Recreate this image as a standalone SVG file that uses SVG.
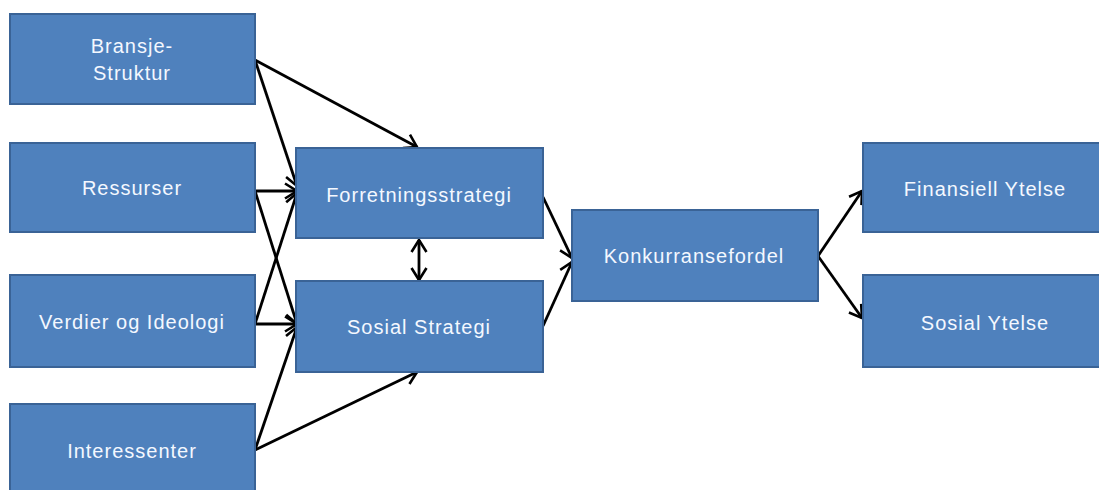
<svg xmlns="http://www.w3.org/2000/svg" width="1099" height="490" viewBox="0 0 1099 490">
  <style>
    .box { fill: #4F81BD; stroke: #3A6396; stroke-width: 2; }
    .lbl { font-family: "Liberation Sans", Arial, sans-serif; font-size: 20px; letter-spacing: 1px; fill: #F4F8FF; text-anchor: middle; dominant-baseline: central; }
    .conn { stroke: #000; stroke-width: 2.8; fill: none; }
  </style>
  <defs>
    <marker id="arrow" viewBox="0 0 18 18" refX="15" refY="9" markerWidth="18" markerHeight="18" markerUnits="userSpaceOnUse" orient="auto-start-reverse">
      <path d="M3,1.5 L15,9 L3,16.5" fill="none" stroke="#000" stroke-width="2.6" stroke-linejoin="miter"/>
    </marker>
  </defs>
  <rect width="1099" height="490" fill="#fff"/>

  <g id="connectors">
    <line class="conn" x1="255" y1="60" x2="417" y2="147" marker-end="url(#arrow)"/>
    <line class="conn" x1="255" y1="60" x2="297" y2="186" marker-end="url(#arrow)"/>
    <line class="conn" x1="255" y1="191" x2="297" y2="191" marker-end="url(#arrow)"/>
    <line class="conn" x1="255" y1="191" x2="297" y2="324" marker-end="url(#arrow)"/>
    <line class="conn" x1="255" y1="324" x2="297" y2="193" marker-end="url(#arrow)"/>
    <line class="conn" x1="255" y1="324" x2="297" y2="324" marker-end="url(#arrow)"/>
    <line class="conn" x1="255" y1="450" x2="297" y2="327" marker-end="url(#arrow)"/>
    <line class="conn" x1="255" y1="450" x2="417" y2="372" marker-end="url(#arrow)"/>
    <line class="conn" x1="419" y1="240" x2="419" y2="280" marker-start="url(#arrow)" marker-end="url(#arrow)"/>
    <line class="conn" x1="543" y1="197" x2="572" y2="258" marker-end="url(#arrow)"/>
    <line class="conn" x1="543" y1="326" x2="572" y2="262" marker-end="url(#arrow)"/>
    <line class="conn" x1="818" y1="256" x2="862" y2="191" marker-end="url(#arrow)"/>
    <line class="conn" x1="818" y1="256" x2="862" y2="318" marker-end="url(#arrow)"/>
  </g>

  <g id="bransje">
    <rect class="box" x="10" y="14" width="245" height="90"/>
    <text class="lbl" x="132" y="46">Bransje-</text>
    <text class="lbl" x="132" y="73">Struktur</text>
  </g>
  <g id="ressurser">
    <rect class="box" x="10" y="143" width="245" height="89"/>
    <text class="lbl" x="132" y="188">Ressurser</text>
  </g>
  <g id="verdier">
    <rect class="box" x="10" y="275" width="245" height="92"/>
    <text class="lbl" x="132" y="322">Verdier og Ideologi</text>
  </g>
  <g id="interessenter">
    <rect class="box" x="10" y="404" width="245" height="96"/>
    <text class="lbl" x="132" y="451">Interessenter</text>
  </g>
  <g id="forretningsstrategi">
    <rect class="box" x="296" y="148" width="247" height="90"/>
    <text class="lbl" x="419" y="195">Forretningsstrategi</text>
  </g>
  <g id="sosial-strategi">
    <rect class="box" x="296" y="281" width="247" height="91"/>
    <text class="lbl" x="419" y="327">Sosial Strategi</text>
  </g>
  <g id="konkurransefordel">
    <rect class="box" x="572" y="210" width="246" height="91"/>
    <text class="lbl" x="694" y="256">Konkurransefordel</text>
  </g>
  <g id="finansiell-ytelse">
    <rect class="box" x="863" y="143" width="245" height="89"/>
    <text class="lbl" x="985" y="189">Finansiell Ytelse</text>
  </g>
  <g id="sosial-ytelse">
    <rect class="box" x="863" y="275" width="245" height="92"/>
    <text class="lbl" x="985" y="323">Sosial Ytelse</text>
  </g>
</svg>
